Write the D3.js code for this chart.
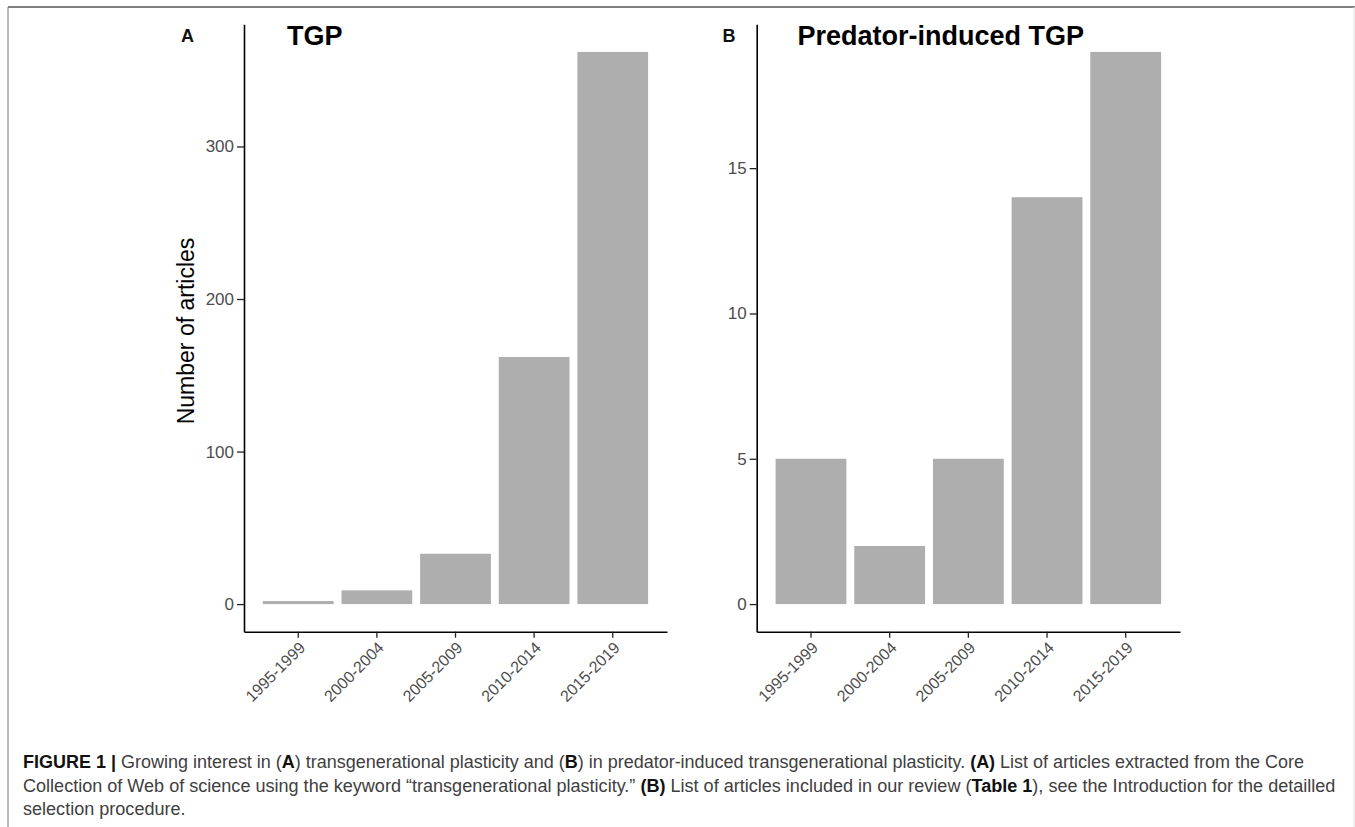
<!DOCTYPE html>
<html>
<head>
<meta charset="utf-8">
<script src="https://cdn.jsdelivr.net/npm/d3@7"></script>
<style>
  html, body { margin: 0; padding: 0; background: #fff; }
  svg { display: block; }
</style>
</head>
<body>
<svg id="chart" width="1355" height="827"></svg>
<script>
// ---- data ----
const categories = ["1995-1999", "2000-2004", "2005-2009", "2010-2014", "2015-2019"];
const tgpCounts = [2, 9, 33, 162, 362];
const predatorCounts = [5, 2, 5, 14, 19];
const tgpTicks = [0, 100, 200, 300];
const predatorTicks = [0, 5, 10, 15];
const panelTitles = ["TGP", "Predator-induced TGP"];
const panelTags = ["A", "B"];
const yTitle = "Number of articles";
const captionLines = [
  [["FIGURE 1 |", true], [" Growing interest in (", false], ["A", true], [") transgenerational plasticity and (", false], ["B", true], [") in predator-induced transgenerational plasticity. ", false], ["(A)", true], [" List of articles extracted from the Core", false]],
  [["Collection of Web of science using the keyword \u201Ctransgenerational plasticity.\u201D ", false], ["(B)", true], [" List of articles included in our review (", false], ["Table 1", true], ["), see the Introduction for the detailled", false]],
  [["selection procedure.", false]]
];

const svg = d3.select("#chart");
const FONT = "'Liberation Sans', Arial, Helvetica, sans-serif";

// frame
svg.append("line").attr("x1", 8).attr("x2", 1355).attr("y1", 7).attr("y2", 7)
  .attr("stroke", "#555").attr("stroke-width", 1.5);
svg.append("line").attr("x1", 8).attr("x2", 8).attr("y1", 7).attr("y2", 827)
  .attr("stroke", "#777").attr("stroke-width", 1);
svg.append("line").attr("x1", 1354).attr("x2", 1354).attr("y1", 7).attr("y2", 827)
  .attr("stroke", "#e4e4e4").attr("stroke-width", 1);

const yTop = 24.3, yBottom = 631.7;

function panel(opts) {
  const { values, ticks, x0, x1, title, titleX, tag, tagX } = opts;
  const maxV = d3.max(values);
  const y = d3.scaleLinear().domain([-0.05 * maxV, maxV * 1.05]).range([yBottom, yTop]);
  const x = d3.scaleBand().domain(categories).range([x0, x1]).paddingInner(0.1).paddingOuter(0.24);
  const g = svg.append("g");

  g.selectAll("rect.bar").data(values).join("rect")
    .attr("class", "bar")
    .attr("x", (d, i) => x(categories[i]))
    .attr("width", x.bandwidth())
    .attr("y", d => y(d))
    .attr("height", d => y(0) - y(d))
    .attr("fill", "#adaead");

  const yAxis = g.append("g").attr("transform", `translate(${x0},0)`)
    .call(d3.axisLeft(y).tickValues(ticks).tickSize(7).tickSizeOuter(0).tickPadding(3));
  const xAxis = g.append("g").attr("transform", `translate(0,${yBottom})`)
    .call(d3.axisBottom(x).tickSize(6).tickSizeOuter(0));

  [yAxis, xAxis].forEach(a => {
    a.select(".domain").attr("stroke", "#000").attr("stroke-width", 1.6);
    a.selectAll(".tick line").attr("stroke", "#222").attr("stroke-width", 1.3);
  });
  yAxis.selectAll(".tick text").attr("font-family", FONT).attr("font-size", 17)
    .attr("fill", "#4d4d4d");
  xAxis.selectAll(".tick text")
    .attr("font-family", FONT).attr("font-size", 16).attr("fill", "#4d4d4d")
    .attr("text-anchor", "end")
    .attr("y", 0).attr("dy", 0)
    .attr("transform", "translate(8,17) rotate(-45)");

  g.append("text").attr("x", titleX).attr("y", 45)
    .attr("font-family", FONT).attr("font-weight", "bold").attr("font-size", 27)
    .attr("fill", "#000").text(title);
  g.append("text").attr("x", tagX).attr("y", 42)
    .attr("font-family", FONT).attr("font-weight", "bold").attr("font-size", 18)
    .attr("fill", "#111").text(tag);
  return g;
}

panel({ values: tgpCounts, ticks: tgpTicks, x0: 244, x1: 667, title: panelTitles[0], titleX: 287, tag: panelTags[0], tagX: 181 });
panel({ values: predatorCounts, ticks: predatorTicks, x0: 756.7, x1: 1180, title: panelTitles[1], titleX: 797.5, tag: panelTags[1], tagX: 722.5 });

// y axis title
svg.append("text")
  .attr("transform", "translate(193.5,331) rotate(-90)")
  .attr("text-anchor", "middle")
  .attr("font-family", FONT).attr("font-size", 23).attr("fill", "#000")
  .text(yTitle);

// caption
const capFont = "'Liberation Sans Narrow', 'Arial Narrow', 'Liberation Sans', sans-serif";
const capBaselines = [768, 792, 815];
const capWidths = [1282, 1314, null];
let lastScale = 1;
captionLines.forEach((parts, li) => {
  const t = svg.append("text")
    .attr("font-family", capFont).attr("font-size", 18.5).attr("fill", "#404040");
  parts.forEach(([s, b]) => {
    t.append("tspan").attr("font-weight", b ? "bold" : "normal")
      .attr("fill", b ? "#111" : "#404040").text(s);
  });
  const w = t.node().getComputedTextLength();
  let sx = capWidths[li] ? capWidths[li] / w : lastScale;
  lastScale = sx;
  t.attr("transform", `translate(23,${capBaselines[li]}) scale(${sx},1)`);
});
</script>
</body>
</html>
